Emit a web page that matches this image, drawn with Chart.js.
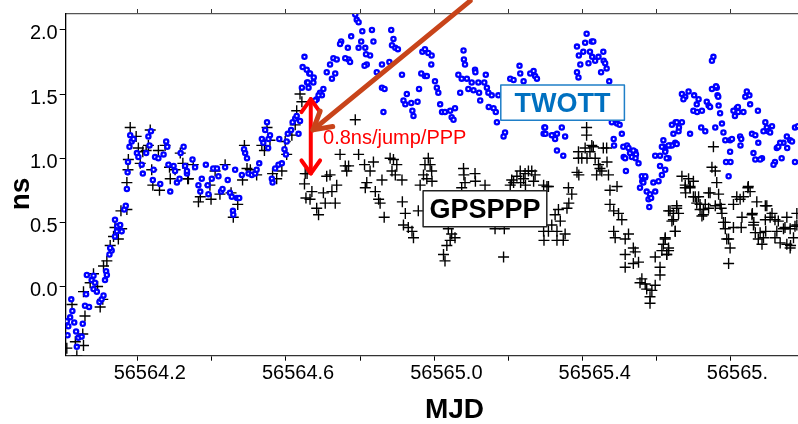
<!DOCTYPE html>
<html>
<head>
<meta charset="utf-8">
<script src="https://cdn.jsdelivr.net/npm/chart.js@4.4.1/dist/chart.umd.min.js"></script>
<style>
  html, body { margin: 0; padding: 0; background: #fff; overflow: hidden; }
  #wrap { width: 820px; height: 424px; }
</style>
</head>
<body>
<div id="wrap"><canvas id="chart" width="820" height="424"></canvas></div>
<script>
// axis ranges (MJD, ns)
const X_MIN = 56564.006, X_MAX = 56566.0;
const Y_MIN = -0.539, Y_MAX = 2.124;
const xTickValues = [56564.2, 56564.4, 56564.6, 56564.8, 56565.0, 56565.2, 56565.4, 56565.6, 56565.8];
const xTickLabels = ['56564.2', '', '56564.6', '', '56565.0', '', '56565.4', '', '56565.'];
const yTickValues = [0.0, 0.5, 1.0, 1.5, 2.0];
const yTickLabels = ['0.0', '0.5', '1.0', '1.5', '2.0'];

// TWOTT series [MJD, ns]
const twottPoints = [
  [56564.021,-0.10],[56564.024,-0.19],[56564.009,-0.27],[56564.018,-0.24],[56564.029,-0.28],
  [56564.013,-0.31],[56564.011,-0.38],[56564.034,-0.35],[56564.040,-0.40],[56564.036,-0.47],
  [56564.049,-0.39],[56564.052,-0.29],[56564.058,-0.15],[56564.061,-0.06],[56564.069,-0.16],
  [56564.063,0.09],[56564.081,0.085],[56564.076,0.05],[56564.085,0.03],[56564.081,-0.02],
  [56564.090,-0.04],[56564.097,-0.12],[56564.103,-0.10],[56564.108,-0.07],[56564.112,0.05],
  [56564.115,0.12],[56564.117,0.09],[56564.124,0.25],[56564.130,0.28],[56564.126,0.30],
  [56564.139,0.39],[56564.144,0.43],[56564.145,0.47],[56564.139,0.52],[56564.153,0.48],
  [56564.157,0.43],[56564.164,0.60],[56564.168,0.63],[56564.174,0.97],[56564.173,0.89],
  [56564.171,0.76],[56564.180,1.18],[56564.184,1.13],[56564.178,1.09],[56564.189,1.15],
  [56564.198,1.04],[56564.202,1.01],[56564.211,0.95],[56564.214,0.88],[56564.223,1.04],
  [56564.229,1.17],[56564.236,1.21],[56564.232,1.10],[56564.243,0.91],[56564.241,0.83],
  [56564.247,1.01],[56564.256,1.00],[56564.261,0.80],[56564.270,1.03],[56564.277,1.13],
  [56564.280,1.09],[56564.283,0.95],[56564.288,0.74],[56564.297,0.94],[56564.301,0.90],
  [56564.306,0.81],[56564.313,0.84],[56564.316,1.04],[56564.324,1.09],[56564.328,0.94],
  [56564.333,0.88],
  [56564.348,0.99],[56564.355,0.93],[56564.333,0.90],[56564.364,0.79],[56564.369,0.74],
  [56564.373,0.84],[56564.384,0.95],[56564.389,0.79],[56564.391,0.72],[56564.400,0.84],
  [56564.404,0.92],[56564.414,0.92],[56564.418,0.86],[56564.425,0.74],[56564.429,0.76],
  [56564.436,0.93],[56564.443,0.83],[56564.449,0.73],[56564.454,0.70],[56564.457,0.59],
  [56564.458,0.56],[56564.463,0.91],[56564.468,0.69],[56564.474,0.69],[56564.481,0.87],
  [56564.487,1.07],[56564.490,1.04],[56564.495,1.00],[56564.499,0.88],[56564.508,0.87],
  [56564.517,0.88],[56564.521,0.91],[56564.528,0.96],[56564.535,1.15],[56564.539,1.12],
  [56564.549,1.28],[56564.544,1.22],[56564.553,1.15],[56564.557,1.18],[56564.552,1.08],
  [56564.562,0.84],[56564.564,0.81],[56564.571,0.92],[56564.580,0.95],[56564.589,0.96],
  [56564.582,1.15],[56564.596,1.07],[56564.602,1.13],[56564.600,1.03],[56564.605,1.19],
  [56564.614,1.22],[56564.618,1.28],[56564.625,1.31],[56564.629,1.33],[56564.638,1.29],
  [56564.634,1.19],[56564.643,1.55],[56564.650,1.79],[56564.645,1.71],[56564.656,1.69],
  [56564.657,1.59],[56564.661,1.55],[56564.663,1.66],
  [56564.787,2.12],[56564.791,2.08],[56564.796,2.06],[56564.749,1.91],[56564.746,1.89],
  [56564.767,1.86],[56564.776,1.95],[56564.806,1.99],[56564.803,1.91],[56564.814,1.86],
  [56564.832,2.00],[56564.836,1.91],[56564.827,1.80],[56564.796,1.86],[56564.818,1.73],
  [56564.812,1.72],[56564.884,2.00],[56564.890,1.93],[56564.886,1.88],[56564.895,1.86],
  [56564.902,1.85],[56564.879,1.75],[56564.859,1.73],[56564.845,1.67],[56564.913,1.65],
  [56564.859,1.55],[56564.866,1.54],[56564.863,1.36],[56564.926,1.50],[56564.917,1.45],
  [56564.922,1.42],[56564.938,1.43],[56564.941,1.37],[56564.944,1.33],[56564.955,1.44],
  [56564.959,1.54],[56564.965,1.66],[56564.975,1.64],[56564.968,1.83],[56564.975,1.85],
  [56564.728,1.78],[56564.737,1.77],[56564.719,1.73],[56564.710,1.67],[56564.733,1.66],
  [56564.724,1.62],[56564.701,1.54],[56564.692,1.51],[56564.697,1.49],[56564.683,1.46],
  [56564.674,1.59],[56564.665,1.66],[56564.675,1.63],[56564.659,1.59],[56564.679,1.45],
  [56564.688,1.49],[56564.769,1.77],[56564.773,1.75],[56564.760,1.78],[56564.816,1.81],
  [56564.984,1.82],[56564.993,1.80],[56564.992,1.73],[56564.980,1.64],[56565.002,1.60],
  [56565.007,1.55],[56565.011,1.51],[56565.016,1.42],[56565.021,1.36],[56565.029,1.36],
  [56565.043,1.37],[56565.047,1.32],[56565.052,1.30],[56565.056,1.39],[56565.065,1.65],
  [56565.074,1.62],[56565.079,1.84],[56565.080,1.77],[56565.083,1.73],[56565.070,1.51],
  [56565.088,1.62],[56565.101,1.59],[56565.092,1.54],[56565.110,1.69],[56565.111,1.67],
  [56565.106,1.53],[56565.119,1.59],[56565.121,1.51],[56565.124,1.45],[56565.135,1.59],
  [56565.139,1.65],[56565.142,1.55],[56565.146,1.51],[56565.155,1.49],[56565.147,1.40],
  [56565.160,1.39],[56565.166,1.36],[56565.173,1.49],[56565.169,1.28],[56565.191,1.20],
  [56565.187,1.17],[56565.205,1.62],[56565.214,1.61],[56565.230,1.72],[56565.232,1.66],
  [56565.241,1.60],[56565.259,1.66],[56565.268,1.68],[56565.272,1.64],[56565.277,1.62],
  [56565.297,1.24],[56565.295,1.19],
  [56565.299,1.24],[56565.321,1.18],[56565.331,1.19],[56565.326,1.15],[56565.344,1.24],
  [56565.353,1.17],[56565.331,1.06],[56565.348,1.02],[56565.317,1.18],[56565.300,1.19],
  [56565.385,1.67],[56565.389,1.63],[56565.394,1.73],[56565.390,1.80],[56565.385,1.87],
  [56565.411,1.97],[56565.407,1.90],[56565.425,1.91],[56565.429,1.91],[56565.402,1.83],
  [56565.420,1.83],[56565.426,1.79],[56565.443,1.79],[56565.456,1.83],[56565.434,1.76],
  [56565.416,1.74],[56565.457,1.76],[56565.461,1.74],[56565.465,1.70],[56565.450,1.67],
  [56565.472,1.60],[56565.479,1.28],[56565.493,1.27],[56565.500,1.26],[56565.506,1.19],
  [56565.484,1.15],[56565.485,1.10],[56565.510,1.09],[56565.520,1.10],[56565.524,1.08],
  [56565.511,1.01],[56565.515,1.00],[56565.528,1.04],[56565.542,1.05],[56565.544,1.03],
  [56565.533,1.01],[56565.543,1.00],[56565.551,0.96],[56565.517,0.90],[56565.560,0.86],
  [56565.569,0.85],[56565.561,0.82],[56565.573,0.74],[56565.582,0.72],[56565.596,0.74],
  [56565.578,0.68],[56565.580,0.62],[56565.585,0.69],[56565.605,0.82],[56565.614,0.87],
  [56565.623,0.91],[56565.623,1.06],[56565.618,1.09],[56565.596,1.02],[56565.609,1.02],
  [56565.636,1.10],[56565.650,1.12],[56565.632,1.00],[56565.659,1.21],[56565.660,1.24],
  [56565.668,1.28],[56565.651,1.28],[56565.690,1.19],[56565.708,1.42],[56565.699,1.37],
  [56565.668,1.50],[56565.677,1.48],[56565.686,1.52],[56565.701,1.49],[56565.713,1.46],
  [56565.709,1.36],[56565.722,1.37],[56565.735,1.44],[56565.740,1.41],[56565.749,1.54],
  [56565.762,1.55],[56565.764,1.49],[56565.753,1.79],[56565.749,1.76],[56565.767,1.41],
  [56565.771,1.35],[56565.776,1.27],[56565.758,1.24],[56565.780,1.20],[56565.785,1.14],
  [56565.798,1.14],[56565.803,1.15],[56565.816,1.39],[56565.820,1.36],[56565.834,1.36],
  [56565.843,1.52],[56565.850,1.49],[56565.852,1.42],[56565.825,1.17],[56565.798,1.05],
  [56565.799,0.97],[56565.794,0.86],[56565.826,1.10],[56565.861,1.04],[56565.874,1.12],
  [56565.884,1.00],[56565.888,1.21],[56565.897,1.24],[56565.901,1.21],[56565.919,0.97],
  [56565.915,0.95],[56565.924,1.08],[56565.937,1.00],[56565.942,1.12],[56565.951,1.17],
  [56565.960,1.14],[56565.965,1.13],[56565.973,0.97],[56565.952,1.08],[56565.973,1.24],
  [56565.672,1.46],[56565.760,1.56],[56565.766,1.48],[56565.744,1.40],[56565.807,1.37],
  [56565.819,1.40],[56565.811,1.33],[56565.839,1.48],[56565.873,1.37],[56565.893,1.28],
  [56565.911,1.25],[56565.906,1.20],[56565.857,1.19],[56565.866,1.18],[56565.828,1.15],
  [56565.866,0.99],[56565.879,0.99],[56565.928,1.09],[56565.933,1.12],[56565.981,1.25],
  [56565.627,1.00],[56565.641,1.10],[56565.654,1.11],[56565.645,1.19],[56565.641,1.26],
  [56565.654,1.28],[56565.720,1.24],[56565.731,1.21],[56565.787,0.97],[56565.537,1.06],
  [56565.569,0.86],[56565.564,0.81],[56565.555,0.77],[56565.591,0.81],[56565.609,0.94],
  [56565.623,1.05],[56565.614,1.09],[56565.618,1.14],[56565.632,1.10]
];

// GPSPPP series [MJD, ns]
const gpspppPoints = [
  [56564.023,-0.14],[56564.009,-0.48],[56564.032,-0.43],[56564.036,-0.54],[56564.054,-0.46],
  [56564.052,-0.37],[56564.058,-0.23],[56564.054,-0.04],[56564.072,0.03],[56564.081,0.10],
  [56564.092,0.00],[56564.099,-0.16],[56564.106,-0.10],[56564.108,0.16],[56564.117,0.20],
  [56564.126,0.32],[56564.135,0.39],[56564.139,0.46],[56564.148,0.37],[56564.157,0.45],
  [56564.155,0.59],[56564.171,0.60],[56564.171,0.81],[56564.174,0.91],[56564.175,0.99],
  [56564.180,1.24],[56564.196,1.17],[56564.202,1.08],[56564.214,1.05],[56564.207,0.96],
  [56564.223,1.06],[56564.234,1.22],[56564.229,1.10],[56564.238,0.91],[56564.241,0.79],
  [56564.256,1.06],[56564.259,0.75],[56564.274,1.10],[56564.286,0.93],[56564.288,0.84],
  [56564.301,0.91],[56564.315,1.04],[56564.322,0.96],[56564.335,0.84],
  [56564.337,0.84],[56564.350,0.95],[56564.364,0.66],[56564.369,0.70],[56564.395,0.79],
  [56564.398,0.68],[56564.409,0.90],[56564.422,0.72],[56564.436,0.95],[56564.452,0.73],
  [56564.458,0.54],[56564.470,0.64],[56564.483,0.83],[56564.488,1.10],[56564.495,0.92],
  [56564.504,0.91],[56564.521,0.87],[56564.535,1.10],[56564.542,1.06],[56564.549,1.24],
  [56564.557,1.14],[56564.564,0.88],[56564.575,0.84],[56564.589,0.90],[56564.598,1.13],
  [56564.602,1.03],[56564.616,1.18],[56564.625,1.26],[56564.629,1.37],[56564.638,1.50],
  [56564.643,1.44],[56564.652,0.88],[56564.650,0.80],[56564.654,0.69],
  [56564.787,1.30],[56564.657,0.88],[56564.670,0.74],[56564.665,0.68],[56564.683,0.61],
  [56564.688,0.56],[56564.701,0.73],[56564.706,0.65],[56564.710,0.86],[56564.719,0.87],
  [56564.724,0.74],[56564.733,0.65],[56564.737,0.79],[56564.746,1.03],[56564.760,0.94],
  [56564.764,0.90],[56564.769,0.94],[56564.796,1.03],[56564.812,0.95],[56564.827,0.90],
  [56564.818,0.81],[56564.814,0.77],[56564.836,0.97],[56564.841,0.74],[56564.850,0.68],
  [56564.854,0.65],[56564.859,0.83],[56564.865,0.54],[56564.881,1.00],[56564.890,0.99],
  [56564.899,0.95],[56564.886,0.90],[56564.895,0.87],[56564.913,0.83],[56564.914,0.66],
  [56564.922,0.57],[56564.917,0.48],[56564.930,0.46],[56564.940,0.43],[56564.944,0.38],
  [56564.957,0.59],[56564.962,0.79],[56564.971,0.87],[56564.975,0.95],
  [56564.984,1.00],[56564.989,0.95],[56564.993,0.90],[56564.980,0.84],[56564.994,0.82],
  [56565.079,0.92],[56565.080,0.87],[56565.110,0.88],[56565.111,0.82],[56565.083,0.81],
  [56565.137,0.79],[56565.074,0.77],[56565.038,0.45],[56565.047,0.41],[56565.056,0.38],
  [56565.043,0.36],[56565.034,0.32],[56565.025,0.25],[56565.029,0.20],[56565.187,0.23],
  [56565.164,0.45],[56565.189,0.45],[56565.205,0.79],[56565.209,0.83],[56565.223,0.86],
  [56565.232,0.90],[56565.241,0.84],[56565.245,0.88],[56565.254,0.90],[56565.263,0.90],
  [56565.272,0.87],[56565.268,0.82],[56565.246,0.79],[56565.233,0.81],[56565.214,0.81],
  [56565.295,0.43],[56565.296,0.36],[56565.304,0.78],[56565.295,0.79],
  [56565.411,1.24],[56565.411,1.18],[56565.425,1.10],[56565.429,1.09],[56565.407,1.08],
  [56565.420,1.05],[56565.389,1.05],[56565.389,1.00],[56565.398,1.00],[56565.412,1.00],
  [56565.434,1.00],[56565.456,1.08],[56565.465,1.08],[56565.443,0.95],[56565.447,0.92],
  [56565.466,0.97],[56565.452,0.90],[56565.438,0.87],[56565.470,0.87],[56565.385,0.89],
  [56565.390,0.87],[56565.474,0.75],[56565.493,0.78],[56565.308,0.78],[56565.362,0.77],
  [56565.371,0.72],[56565.363,0.65],[56565.358,0.61],[56565.335,0.60],[56565.326,0.56],
  [56565.340,0.51],[56565.317,0.48],[56565.308,0.43],[56565.331,0.43],[56565.353,0.41],
  [56565.331,0.36],[56565.348,0.36],[56565.474,0.64],[56565.484,0.59],[56565.497,0.57],
  [56565.506,0.52],[56565.484,0.43],[56565.488,0.38],[56565.515,0.37],[56565.524,0.41],
  [56565.515,0.25],[56565.537,0.30],[56565.542,0.27],[56565.551,0.19],[56565.537,0.18],
  [56565.515,0.15],[56565.560,0.06],[56565.555,0.03],[56565.569,0.02],[56565.573,-0.02],
  [56565.587,-0.03],[56565.596,0.01],[56565.582,-0.08],[56565.582,-0.13],[56565.609,0.09],
  [56565.609,0.15],[56565.596,0.23],[56565.614,0.28],[56565.618,0.33],[56565.623,0.37],
  [56565.627,0.25],[56565.632,0.59],[56565.632,0.28],[56565.654,0.63],[56565.645,0.57],
  [56565.659,0.57],[56565.645,0.52],[56565.650,0.43],[56565.677,0.77],[56565.690,0.77],
  [56565.699,0.70],[56565.713,0.70],[56565.726,0.60],[56565.722,0.55],[56565.744,0.73],
  [56565.767,0.72],[56565.758,0.63],[56565.776,0.57],[56565.780,0.50],[56565.807,0.46],
  [56565.794,0.37],[56565.798,0.30],[56565.794,0.18],[56565.807,0.64],[56565.825,0.68],
  [56565.834,0.70],[56565.847,0.78],[56565.857,0.56],[56565.861,0.48],[56565.879,0.42],
  [56565.888,0.38],[56565.897,0.63],[56565.906,0.54],[56565.924,0.43],[56565.942,0.45],
  [56565.951,0.33],[56565.960,0.30],[56565.973,0.47],[56565.969,0.38],
  [56565.753,1.09],[56565.749,0.93],[56565.758,0.90],[56565.762,0.81],[56565.740,0.73],
  [56565.668,0.86],[56565.686,0.84],[56565.677,0.79],[56565.699,0.82],[56565.690,0.78],
  [56565.678,0.73],[56565.704,0.70],[56565.708,0.65],[56565.717,0.64],[56565.731,0.64],
  [56565.740,0.61],[56565.717,0.60],[56565.726,0.56],[56565.771,0.64],[56565.774,0.61],
  [56565.785,0.50],[56565.785,0.45],[56565.789,0.37],[56565.816,0.70],[56565.846,0.77],
  [56565.852,0.74],[56565.830,0.54],[56565.828,0.46],[56565.858,0.57],[56565.870,0.66],
  [56565.862,0.50],[56565.866,0.42],[56565.874,0.37],[56565.884,0.33],[56565.893,0.63],
  [56565.911,0.57],[56565.893,0.52],[56565.894,0.43],[56565.919,0.52],[56565.928,0.51],
  [56565.919,0.38],[56565.933,0.34],[56565.951,0.54],[56565.946,0.46],[56565.960,0.45],
  [56565.961,0.32],[56565.978,0.48],[56565.978,0.57],[56565.623,0.38],[56565.636,0.59],
  [56565.641,0.51],[56565.654,0.61],[56565.650,0.43],[56565.632,0.30],[56565.627,0.25]
];

// annotations, in data units
const jumpArrow = { x: 56564.667, from: 1.461, to: 0.881 };
const pointerArrow = { from: [56565.097, 2.226], to: [56564.673, 1.221] };
const jumpLabel = { x: 56564.700, y: 1.151, text: '0.8ns/jump/PPP' };
const twottBox = { x0: 56565.1795, x1: 56565.5129, y0: 1.571, y1: 1.296, text: 'TWOTT' };
const gpsBox = { x0: 56564.970, x1: 56565.3036, y0: 0.747, y1: 0.466, text: 'GPSPPP' };

const FONT = "'Liberation Sans', Arial, sans-serif";

function drawHead(ctx, tx, ty, fx, fy, len, spread) {
  const a = Math.atan2(fy - ty, fx - tx);
  ctx.beginPath();
  ctx.moveTo(tx + len * Math.cos(a + spread), ty + len * Math.sin(a + spread));
  ctx.lineTo(tx, ty);
  ctx.lineTo(tx + len * Math.cos(a - spread), ty + len * Math.sin(a - spread));
  ctx.stroke();
}

function drawBox(ctx, x, y, b, color, textColor) {
  const l = x.getPixelForValue(b.x0), r = x.getPixelForValue(b.x1);
  const t = y.getPixelForValue(b.y0), bt = y.getPixelForValue(b.y1);
  ctx.fillStyle = '#fff';
  ctx.fillRect(l, t, r - l, bt - t);
  ctx.strokeStyle = color;
  ctx.lineWidth = 1.5;
  ctx.strokeRect(l, t, r - l, bt - t);
  ctx.fillStyle = textColor;
  ctx.font = 'bold 27px ' + FONT;
  ctx.textAlign = 'center';
  ctx.textBaseline = 'middle';
  ctx.fillText(b.text, (l + r) / 2, (t + bt) / 2 + 2);
}

const overlay = {
  id: 'overlay',
  afterDatasetsDraw(chart) {
    const { ctx, scales: { x, y } } = chart;
    ctx.save();
    ctx.lineCap = 'round';
    ctx.lineJoin = 'round';

    // red double arrow
    const ax = x.getPixelForValue(jumpArrow.x);
    const ay0 = y.getPixelForValue(jumpArrow.from), ay1 = y.getPixelForValue(jumpArrow.to);
    ctx.strokeStyle = '#ff0000';
    ctx.lineWidth = 4;
    ctx.beginPath();
    ctx.moveTo(ax, ay0); ctx.lineTo(ax, ay1); ctx.stroke();
    drawHead(ctx, ax, ay0, ax, ay1, 16, 0.62);
    drawHead(ctx, ax, ay1, ax, ay0, 16, 0.62);

    // brown pointer arrow
    const px0 = x.getPixelForValue(pointerArrow.from[0]), py0 = y.getPixelForValue(pointerArrow.from[1]);
    const px1 = x.getPixelForValue(pointerArrow.to[0]), py1 = y.getPixelForValue(pointerArrow.to[1]);
    ctx.strokeStyle = '#c8441a';
    ctx.lineWidth = 5;
    ctx.beginPath();
    ctx.moveTo(px0, py0); ctx.lineTo(px1, py1); ctx.stroke();
    drawHead(ctx, px1, py1, px0, py0, 20, 0.52);

    // label
    ctx.fillStyle = '#ff0000';
    ctx.font = '20px ' + FONT;
    ctx.textAlign = 'left';
    ctx.textBaseline = 'middle';
    ctx.fillText(jumpLabel.text, x.getPixelForValue(jumpLabel.x), y.getPixelForValue(jumpLabel.y));

    drawBox(ctx, x, y, twottBox, '#1f7fc8', '#0070c0');
    drawBox(ctx, x, y, gpsBox, '#222', '#000');
    ctx.restore();
  },
  afterDraw(chart) {
    const { ctx } = chart;
    ctx.save();
    ctx.fillStyle = '#000';
    ctx.font = 'bold 28px ' + FONT;
    ctx.textAlign = 'center';
    ctx.textBaseline = 'middle';
    ctx.fillText('MJD', 454.5, 410.5);
    ctx.translate(21, 194);
    ctx.rotate(-Math.PI / 2);
    ctx.fillText('ns', 0, 0);
    ctx.restore();
  }
};

const ctx = document.getElementById('chart');
new Chart(ctx, {
  type: 'scatter',
  data: {
    datasets: [
      {
        label: 'TWOTT',
        data: twottPoints.map(p => ({ x: p[0], y: p[1] })),
        pointStyle: 'circle',
        pointRadius: 2.1,
        pointBorderWidth: 2.3,
        pointBorderColor: '#0000ff',
        pointBackgroundColor: '#ffffff'
      },
      {
        label: 'GPSPPP',
        data: gpspppPoints.map(p => ({ x: p[0], y: p[1] })),
        pointStyle: 'cross',
        pointRadius: 5.5,
        pointBorderWidth: 1.4,
        pointBorderColor: '#000000'
      }
    ]
  },
  options: {
    responsive: false,
    animation: false,
    events: [],
    layout: { padding: { left: 0, right: 15, top: 0, bottom: 0 } },
    plugins: { legend: { display: false }, tooltip: { enabled: false } },
    scales: {
      x: {
        type: 'linear',
        position: 'bottom',
        min: X_MIN,
        max: X_MAX,
        afterBuildTicks: s => { s.ticks = xTickValues.map(v => ({ value: v })); },
        afterFit: s => { s.height = 68.3; },
        ticks: {
          autoSkip: false,
          maxRotation: 0,
          align: 'start',
          labelOffset: -24,
          padding: 1,
          color: '#000',
          font: { family: FONT, size: 20 },
          callback: (v, i) => xTickLabels[i]
        },
        grid: { drawOnChartArea: false, tickLength: 5, color: '#000', lineWidth: 1 },
        border: { color: '#333', width: 1.3 }
      },
      xTop: {
        type: 'linear',
        position: 'top',
        min: X_MIN,
        max: X_MAX,
        afterBuildTicks: s => { s.ticks = xTickValues.map(v => ({ value: v })); },
        afterFit: s => { s.height = 10.7; },
        ticks: { display: false },
        grid: { drawOnChartArea: false, tickLength: 5, color: '#333', lineWidth: 1 },
        border: { color: '#555', width: 1.3 }
      },
      y: {
        type: 'linear',
        min: Y_MIN,
        max: Y_MAX,
        afterBuildTicks: s => { s.ticks = yTickValues.map(v => ({ value: v })); },
        afterFit: s => { s.width = 65.7; },
        ticks: {
          padding: 2,
          labelOffset: 4,
          color: '#000',
          font: { family: FONT, size: 20 },
          callback: (v, i) => yTickLabels[i]
        },
        grid: { drawOnChartArea: false, tickLength: 6, color: '#000', lineWidth: 1 },
        border: { color: '#000', width: 1.3 }
      }
    }
  },
  plugins: [overlay]
});
</script>
</body>
</html>
